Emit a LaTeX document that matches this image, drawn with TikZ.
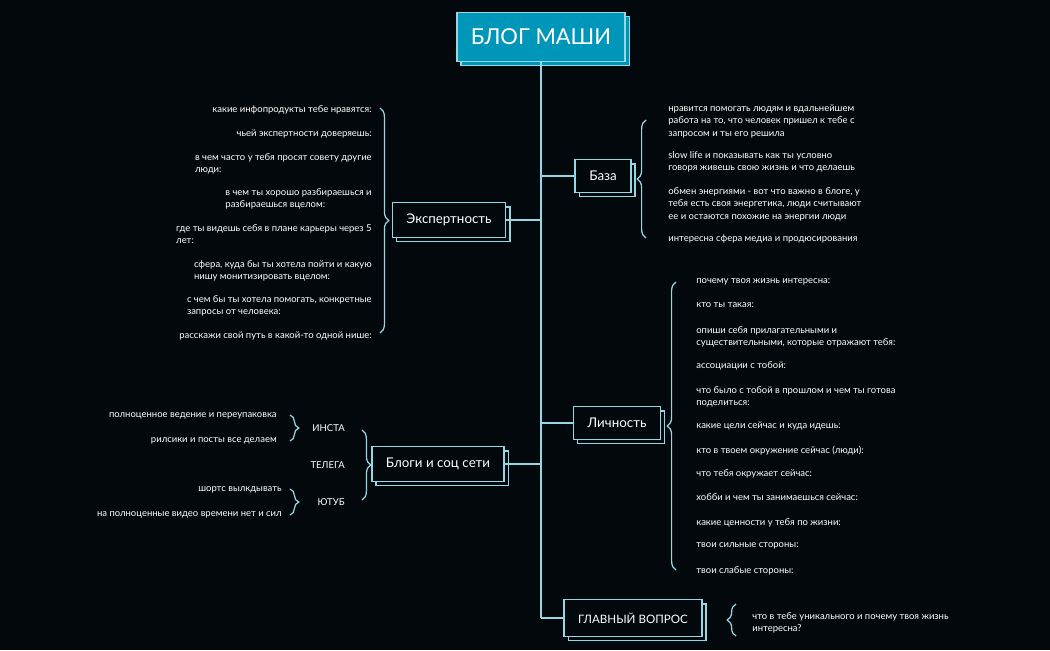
\documentclass[tikz,border=0pt]{standalone}
\usepackage{fontspec}
\setmainfont{Lato}
\usetikzlibrary{decorations.pathreplacing,shadows}
\definecolor{bg}{RGB}{3,8,12}
\definecolor{lineblue}{RGB}{150,215,228}
\definecolor{teal}{RGB}{0,150,185}
\tikzset{topic/.style={draw=lineblue,line width=0.8pt,fill=bg,text=white,inner xsep=8pt,inner ysep=6.5pt,font=\fontsize{7.6}{9}\selectfont,
    copy shadow={shadow xshift=2.4pt,shadow yshift=-2.4pt,draw=lineblue,fill=bg}}}
\tikzset{note/.style={text=white,align=left,font=\fontsize{5.4}{7.2}\selectfont,inner sep=0pt}}
\tikzset{link/.style={draw=lineblue,line width=0.7pt}}
\tikzset{brc/.style={draw=lineblue,line width=0.7pt,decorate,decoration={brace,amplitude=5pt}}}
\begin{document}
\begin{tikzpicture}[x=0.02cm,y=-0.02cm]
        % background
        \fill[bg] (0,0) rectangle (1050,650);
        % root and trunk
        \node[topic,fill=teal,font=\fontsize{12.5}{14}\selectfont,minimum width=3.3cm,minimum height=0.98cm,
          copy shadow={shadow xshift=2.4pt,shadow yshift=-2.4pt,draw=lineblue,fill=teal}] (root) at (541,37) {БЛОГ МАШИ};
        \coordinate (trunk) at (541,618);
        \draw[link] (root.south) -- (trunk);
        % topics
        \node[topic] (baza) at (603,176) {База};
        \node[topic] (expert) at (449,220) {Экспертность};
        \node[topic] (lichn) at (617,423) {Личность};
        \node[topic] (blogi) at (438,464) {Блоги и соц сети};
        \node[topic,font=\fontsize{6.6}{8}\selectfont,inner ysep=7.5pt] (main) at (633,618) {ГЛАВНЫЙ ВОПРОС};
        \draw[link] (baza.west) -- (baza.west -| root);
        \draw[link] (expert.east) -- (expert.east -| root);
        \draw[link] (lichn.west) -- (lichn.west -| root);
        \draw[link] (blogi.east) -- (blogi.east -| root);
        \draw[link] (trunk) -- (main.west);
        % braces
        \draw[brc] (646,238) -- (646,120);
        \draw[brc] (380,108) -- (380,333);
        \draw[brc] (676,570) -- (676,282);
        \draw[brc] (736,636) -- (736,604);
        \draw[brc] (362,430) -- (362,500);
        \draw[brc] (290,415) -- (290,441);
        \draw[brc] (290,489) -- (290,515);
        % expertise questions
        \node[note,anchor=north east] (e1) at (372,105) {какие инфопродукты тебе нравятся:};
        \node[note,anchor=north east] (e2) at (372,129) {чьей экспертности доверяешь:};
        \node[note,anchor=north east] (e3) at (372,153) {в чем часто у тебя просят совету другие\\люди:};
        \node[note,anchor=north east] (e4) at (372,188) {в чем ты хорошо разбираешься и\\разбираешься вцелом:};
        \node[note,anchor=north east] (e5) at (372,224) {где ты видешь себя в плане карьеры через 5\\лет:};
        \node[note,anchor=north east] (e6) at (372,260) {сфера, куда бы ты хотела пойти и какую\\нишу монитизировать вцелом:};
        \node[note,anchor=north east] (e7) at (372,295) {с чем бы ты хотела помогать, конкретные\\запросы от человека:};
        \node[note,anchor=north east] (e8) at (372,331) {расскажи свой путь в какой-то одной нише:};
        % base notes
        \node[note,anchor=north west] (b1) at (668,104) {нравится помогать людям и вдальнейшем\\работа на то, что человек пришел к тебе с\\запросом и ты его решила};
        \node[note,anchor=north west] (b2) at (668,151) {slow life и показывать как ты условно\\говоря живешь свою жизнь и что делаешь};
        \node[note,anchor=north west] (b3) at (668,187) {обмен энергиями - вот что важно в блоге, у\\тебя есть своя энергетика, люди считывают\\ее и остаются похожие на энергии люди};
        \node[note,anchor=north west] (b4) at (668,234) {интересна сфера медиа и продюсирования};
        % personality questions
        \node[note,anchor=north west] (l1) at (696,278) {почему твоя жизнь интересна:};
        \node[note,anchor=north west] (l2) at (696,302) {кто ты такая:};
        \node[note,anchor=north west] (l3) at (696,326) {опиши себя прилагательными и\\существительными, которые отражают тебя:};
        \node[note,anchor=north west] (l4) at (696,361) {ассоциации с тобой:};
        \node[note,anchor=north west] (l5) at (696,386) {что было с тобой в прошлом и чем ты готова\\поделиться:};
        \node[note,anchor=north west] (l6) at (696,421) {какие цели сейчас и куда идешь:};
        \node[note,anchor=north west] (l7) at (696,446) {кто в твоем окружение сейчас (люди):};
        \node[note,anchor=north west] (l8) at (696,469) {что тебя окружает сейчас:};
        \node[note,anchor=north west] (l9) at (696,493) {хобби и чем ты занимаешься сейчас:};
        \node[note,anchor=north west] (l10) at (696,518) {какие ценности у тебя по жизни:};
        \node[note,anchor=north west] (l11) at (696,542) {твои сильные стороны:};
        \node[note,anchor=north west] (l12) at (696,566) {твои слабые стороны:};
        % main question
        \node[note,anchor=north west] (m1) at (752,612) {что в тебе уникального и почему твоя жизнь\\интересна?};
        % socials
        \node[note,anchor=east] (insta) at (345,428) {ИНСТА};
        \node[note,anchor=east] (tg) at (345,465) {ТЕЛЕГА};
        \node[note,anchor=east] (yt) at (345,502) {ЮТУБ};
        \node[note,anchor=east] (s1) at (277,416) {полноценное ведение и переупаковка};
        \node[note,anchor=east] (s2) at (277,441) {рилсики и посты все делаем};
        \node[note,anchor=east] (s3) at (282,490) {шортс вылкдывать};
        \node[note,anchor=east] (s4) at (282,515) {на полноценные видео времени нет и сил};
\end{tikzpicture}
\end{document}
